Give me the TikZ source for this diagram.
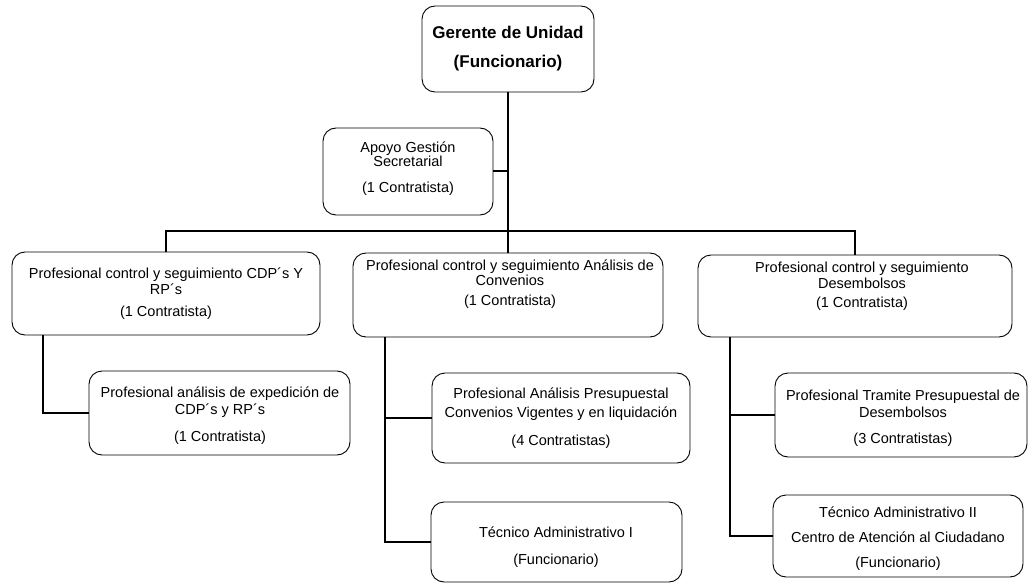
\documentclass[tikz,border=0pt]{standalone}
\usepackage{fontspec}
\setmainfont{Liberation Sans}
\begin{document}
\begin{tikzpicture}[x=1pt,y=-1pt,
  orgbox/.style={draw=black, line width=0.9pt, rounded corners=13pt, inner sep=0pt, outer sep=0pt},
  conn/.style={draw=black, line width=2pt},
  txt/.style={font=\fontsize{14.5}{16}\selectfont, inner sep=0pt, anchor=base},
  ttl/.style={font=\bfseries\fontsize{17}{20}\selectfont, inner sep=0pt, anchor=base}]
\useasboundingbox (0,0) rectangle (1029,583);
\newcommand\OrgBox[5]{\node[orgbox, minimum width={#4-#2}, minimum height={#5-#3}] (#1) at ({(#2+#4)/2},{(#3+#5)/2}) {};}
% boxes
\OrgBox{g}{422}{6}{594}{92}
\OrgBox{a}{323}{128}{493}{215}
\OrgBox{l1}{12}{252}{320}{335}
\OrgBox{m1}{353}{253}{663}{337}
\OrgBox{r1}{698}{255}{1012}{337}
\OrgBox{l2}{89}{371}{350}{455}
\OrgBox{m2}{432}{373}{690}{463}
\OrgBox{m3}{431}{502}{682}{582}
\OrgBox{r2}{775}{373}{1027}{457}
\OrgBox{r3}{773}{495}{1023}{577}
% texts
\node[ttl] (gt1) at (508,39) {Gerente de Unidad};
\node[ttl] (gt2) at (508,68) {(Funcionario)};
\node[txt] (at1) at (408,153) {Apoyo Gestión};
\node[txt] (at2) at (408,167) {Secretarial};
\node[txt] (at3) at (408,193) {(1 Contratista)};
\node[txt] (lt1) at (166,278) {Profesional control y seguimiento CDP´s Y};
\node[txt] (lt2) at (166,294) {RP´s};
\node[txt] (lt3) at (166,316) {(1 Contratista)};
\node[txt] (mt1) at (510,270) {Profesional control y seguimiento Análisis de};
\node[txt] (mt2) at (510,285) {Convenios};
\node[txt] (mt3) at (510,305) {(1 Contratista)};
\node[txt] (rt1) at (862,272) {Profesional control y seguimiento};
\node[txt] (rt2) at (862,288) {Desembolsos};
\node[txt] (rt3) at (862,307) {(1 Contratista)};
\node[txt] (l2t1) at (220,397) {Profesional análisis de expedición de};
\node[txt] (l2t2) at (220,414) {CDP´s y RP´s};
\node[txt] (l2t3) at (220,441) {(1 Contratista)};
\node[txt] (m2t1) at (561,398) {Profesional Análisis Presupuestal};
\node[txt] (m2t2) at (561,417) {Convenios Vigentes y en liquidación};
\node[txt] (m2t3) at (561,445) {(4 Contratistas)};
\node[txt] (m3t1) at (556,537) {Técnico Administrativo I};
\node[txt] (m3t2) at (556,564) {(Funcionario)};
\node[txt] (r2t1) at (903,400) {Profesional Tramite Presupuestal de};
\node[txt] (r2t2) at (903,417) {Desembolsos};
\node[txt] (r2t3) at (903,443) {(3 Contratistas)};
\node[txt] (r3t1) at (898,517) {Técnico Administrativo II};
\node[txt] (r3t2) at (898,542) {Centro de Atención al Ciudadano};
\node[txt] (r3t3) at (898,567) {(Funcionario)};
% connectors
\coordinate (bus) at (508,231);
\draw[conn] (g.south) -- (m1.north);
\draw[conn] (l1.north) -- (l1.north |- bus) -- (r1.north |- bus) -- (r1.north);
\draw[conn] (a.east) -- (a.east -| g.south);
\coordinate (lt) at ([xshift=31pt]l1.south west);
\coordinate (mt) at ([xshift=32pt]m1.south west);
\coordinate (rt) at ([xshift=32pt]r1.south west);
\draw[conn] (lt) |- (l2.west);
\draw[conn] (mt) |- (m3.west);
\draw[conn] (mt |- m2.west) -- (m2.west);
\draw[conn] (rt) |- (r3.west);
\draw[conn] (rt |- r2.west) -- (r2.west);
\end{tikzpicture}
\end{document}
